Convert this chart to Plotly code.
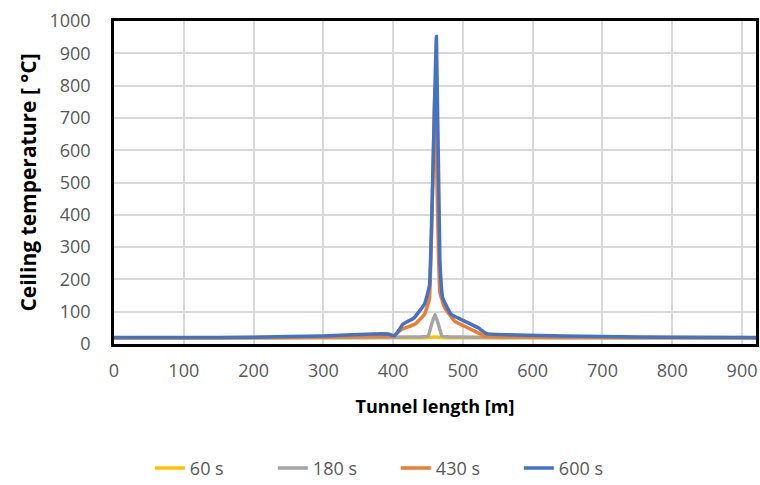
import plotly.graph_objects as go

# Tunnel length positions [m]
x_60 = [0, 100, 200, 300, 400, 440, 450, 460, 470, 480, 520, 600, 700, 800, 920]
t_60 = [19, 19, 19, 19, 19, 19, 20, 22, 20, 19, 19, 19, 19, 19, 19]

x_180 = [0, 100, 200, 300, 400, 440, 450, 455, 460, 465, 470, 480, 520, 600, 700, 800, 920]
t_180 = [19, 19, 19, 20, 21, 22, 24, 60, 92, 60, 24, 22, 21, 20, 19, 19, 19]

x_430 = [0, 100, 200, 300, 390, 400, 412, 431, 445, 452, 460, 467, 474, 488, 512, 531, 600, 700, 800, 920]
t_430 = [19, 19, 20, 22, 25, 24, 45, 61, 92, 140, 790, 160, 112, 71, 45, 25, 22, 21, 20, 19]

x_600 = [0, 100, 200, 300, 383, 393, 402, 414, 430, 445, 452, 462, 467, 471, 483, 507, 522, 534, 641, 700, 800, 920]
t_600 = [20, 20, 21, 25, 32, 31, 25, 61, 81, 124, 180, 952, 260, 143, 92, 66, 50, 32, 25, 23, 21, 20]

x_ticks = [0, 100, 200, 300, 400, 500, 600, 700, 800, 900]
y_ticks = [0, 100, 200, 300, 400, 500, 600, 700, 800, 900, 1000]

series = [
    ("60 s", x_60, t_60, "#FFC000"),
    ("180 s", x_180, t_180, "#A5A5A5"),
    ("430 s", x_430, t_430, "#ED7D31"),
    ("600 s", x_600, t_600, "#4472C4"),
]

fig = go.Figure()
for name, xs, ys, col in series:
    fig.add_trace(go.Scatter(x=xs, y=ys, mode="lines", name=name,
                             line=dict(color=col, width=3.5, shape="spline", smoothing=0.3)))

font_family = "'Open Sans', sans-serif"
fig.update_layout(
    width=760, height=485,
    margin=dict(l=114, r=4, t=21, b=141, autoexpand=False),
    paper_bgcolor="white", plot_bgcolor="white",
    font=dict(family=font_family, size=18, color="#595959"),
    legend=dict(orientation="h", x=0.439, xanchor="center", y=-0.385, yanchor="middle",
                font=dict(size=18, color="#595959"), tracegroupgap=0,
                entrywidth=78, entrywidthmode="pixels"),
    showlegend=True,
)
fig.update_xaxes(range=[0, 920], tickvals=x_ticks, showgrid=True, gridcolor="#D9D9D9", gridwidth=1.5,
                 showline=True, linecolor="black", linewidth=2.5, mirror=True,
                 ticks="outside", ticklen=9, tickcolor="rgba(0,0,0,0)", zeroline=False,
                 title=dict(text="<b>Tunnel length [m]</b>", font=dict(size=18, color="black"), standoff=20))
fig.update_yaxes(range=[0, 1000], tickvals=y_ticks, showgrid=True, gridcolor="#D9D9D9", gridwidth=1.5,
                 showline=True, linecolor="black", linewidth=2.5, mirror=True,
                 ticks="outside", ticklen=17, tickcolor="rgba(0,0,0,0)", zeroline=False,
                 title=dict(text="<b>Ceiling temperature [ °C]</b>", font=dict(size=21, color="black"), standoff=8))

fig.write_html("out.html")
